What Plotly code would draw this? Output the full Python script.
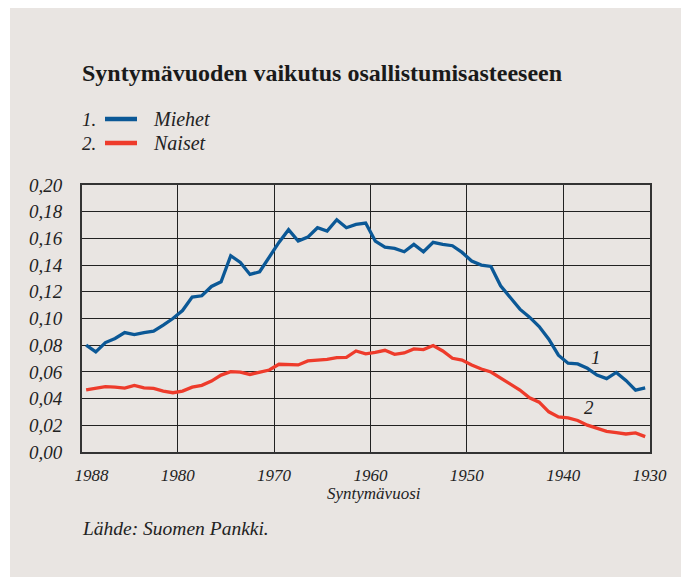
import plotly.graph_objects as go

years = list(range(1988, 1929, -1))  # 1988 ... 1930

miehet = [0.080, 0.075, 0.082, 0.085, 0.0895, 0.088, 0.0895, 0.0905, 0.095, 0.100,
          0.106, 0.116, 0.117, 0.124, 0.1275, 0.147, 0.142, 0.133, 0.135, 0.1465,
          0.157, 0.1665, 0.158, 0.161, 0.168, 0.1655, 0.174, 0.168, 0.1705, 0.1715,
          0.158, 0.1535, 0.1525, 0.150, 0.1555, 0.150, 0.157, 0.1555, 0.1545, 0.1495,
          0.143, 0.140, 0.139, 0.1245, 0.116, 0.107, 0.101, 0.094, 0.0845, 0.0725,
          0.0665, 0.066, 0.0627, 0.0576, 0.055, 0.0596, 0.0536, 0.0464, 0.0481]

naiset = [0.0466, 0.0476, 0.0489, 0.0486, 0.0479, 0.0499, 0.0481, 0.0476, 0.0456, 0.0444,
          0.0456, 0.0486, 0.0499, 0.0531, 0.0576, 0.0602, 0.0599, 0.0581, 0.0599, 0.0614,
          0.0657, 0.0652, 0.0652, 0.0682, 0.0687, 0.0694, 0.0707, 0.0709, 0.0757, 0.0735,
          0.0746, 0.0762, 0.0732, 0.0742, 0.0772, 0.0767, 0.0797, 0.0757, 0.0702, 0.0689,
          0.0652, 0.0622, 0.0599, 0.0556, 0.0506, 0.0464, 0.0406, 0.0373, 0.0301, 0.0263,
          0.0256, 0.0236, 0.0201, 0.018, 0.0155, 0.0145, 0.0135, 0.0143, 0.0115]

series_names = ["Miehet", "Naiset"]
series_numbers = ["1.", "2."]

tick_pos = [1987.45, 1978.5, 1968.5, 1958.5, 1948.5, 1938.5, 1929.55]
tick_text = ["1988", "1980", "1970", "1960", "1950", "1940", "1930"]
grid_pos = [1978.5, 1968.5, 1958.5, 1948.5, 1938.5]

BLUE = "#0b5896"
RED = "#ee3b2b"
PANEL = "#e9e5e2"
INK = "#222222"
SERIF = "Liberation Serif, Times New Roman, serif"

# page body adds an 8px margin; figure is sized so that it ends at the window edge
OFF = 8
W, H = 689 - OFF, 577 - OFF
L, R, T, B = 74, 39, 177, 125
pw, ph = W - L - R, H - T - B


def px(x):
    """reference-page x pixel -> paper coordinate"""
    return (x - OFF - L) / pw


def py(y):
    """reference-page y pixel -> paper coordinate"""
    return (H - B - (y - OFF)) / ph


fig = go.Figure()
colors = [BLUE, RED]
for name, vals, col in zip(series_names, [miehet, naiset], colors):
    fig.add_trace(go.Scatter(x=years, y=vals, mode="lines", name=name,
                             line=dict(color=col, width=3.3)))

shapes = [
    # thin white strip at the far left (panel starts 10px into the page)
    dict(type="rect", xref="paper", yref="paper",
         x0=px(0), x1=px(10), y0=py(600), y1=py(-10),
         fillcolor="white", line=dict(width=0), layer="below"),
]
# legend swatches
for i, col in enumerate(colors):
    yy = 119 + 24 * i
    shapes.append(dict(type="line", xref="paper", yref="paper",
                       x0=px(105), x1=px(137), y0=py(yy), y1=py(yy),
                       line=dict(color=col, width=4.5)))

fig.update_layout(
    width=W, height=H,
    margin=dict(l=L, r=R, t=T, b=B, pad=0),
    paper_bgcolor=PANEL,
    plot_bgcolor=PANEL,
    separators=",.",
    font=dict(family=SERIF, color=INK),
    showlegend=False,
    shapes=shapes,
)

fig.update_xaxes(
    range=[1988.43, 1929.5],
    tickmode="array", tickvals=tick_pos, ticktext=tick_text,
    showgrid=False, ticks="", ticklabelstandoff=7,
    tickfont=dict(family=SERIF, size=17, style="italic", color=INK),
    minor=dict(tickmode="array", tickvals=grid_pos, showgrid=True,
               gridcolor=INK, gridwidth=1.2, ticks=""),
    showline=True, mirror=True, linecolor="#333333", linewidth=2,
    zeroline=False,
)
fig.update_yaxes(
    range=[0, 0.2], tickmode="linear", tick0=0, dtick=0.02, tickformat=".2f",
    showgrid=True, gridcolor=INK, gridwidth=1.2, ticks="",
    ticklabelstandoff=14,
    tickfont=dict(family=SERIF, size=19, style="italic", color=INK),
    showline=True, mirror=True, linecolor="#333333", linewidth=2,
    zeroline=False,
)

fig.add_annotation(xref="paper", yref="paper", x=px(80), y=py(73),
                   xanchor="left", yanchor="middle", showarrow=False,
                   text="<b>Syntymävuoden vaikutus osallistumisasteeseen</b>",
                   font=dict(family=SERIF, size=24, color="#1a1a1a"))
for i, (num, name) in enumerate(zip(series_numbers, series_names)):
    yy = 119 + 24 * i
    fig.add_annotation(xref="paper", yref="paper", x=px(80), y=py(yy),
                       xanchor="left", yanchor="middle", showarrow=False,
                       text=num,
                       font=dict(family=SERIF, size=19, style="italic", color=INK))
    fig.add_annotation(xref="paper", yref="paper", x=px(151), y=py(yy),
                       xanchor="left", yanchor="middle", showarrow=False,
                       text=name,
                       font=dict(family=SERIF, size=20, style="italic", color=INK))
fig.add_annotation(x=1935.06, y=0.071, text="1", showarrow=False,
                   font=dict(family=SERIF, size=19, style="italic", color=INK))
fig.add_annotation(x=1935.8, y=0.0335, text="2", showarrow=False,
                   font=dict(family=SERIF, size=19, style="italic", color=INK))
fig.add_annotation(xref="paper", yref="paper", x=px(374), y=py(493),
                   xanchor="center", yanchor="middle", showarrow=False,
                   text="Syntymävuosi",
                   font=dict(family=SERIF, size=17, style="italic", color=INK))
fig.add_annotation(xref="paper", yref="paper", x=px(80), y=py(528),
                   xanchor="left", yanchor="middle", showarrow=False,
                   text="Lähde: Suomen Pankki.",
                   font=dict(family=SERIF, size=19.5, style="italic", color=INK))

fig.write_html("out.html")
